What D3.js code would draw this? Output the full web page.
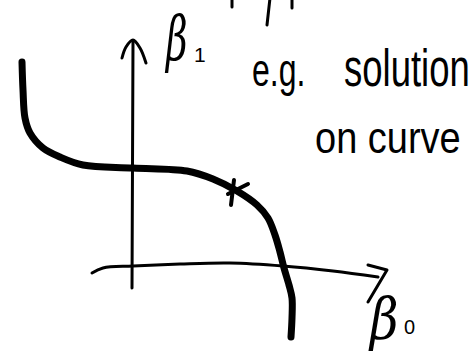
<!DOCTYPE html>
<html>
<head>
<meta charset="utf-8">
<script src="https://cdn.jsdelivr.net/npm/d3@7"></script>
<style>
  html, body { margin: 0; padding: 0; background: #fff; }
  svg { display: block; }
  text { fill: #000; }
</style>
</head>
<body>
<script>
// Constraint curve in the (beta0, beta1) plane, sketched by hand.
const curveB0 = [-2.20, -2.18, -2.14, -2.04, -1.78, -1.44, -0.98, 0.02, 1.10, 1.62, 2.10, 2.50, 2.72, 2.86, 2.96, 3.04, 3.14, 3.20, 3.20, 3.18];
const curveB1 = [ 4.08,  3.52,  2.96,  2.66,  2.36,  2.18,  2.02, 1.96, 1.90, 1.74, 1.50, 1.22, 0.96, 0.62, 0.28, -0.04, -0.38, -0.64, -1.04, -1.42];

// Example solution lying on the curve.
const solutionB0 = [2.08];
const solutionB1 = [1.48];

// Hand-drawn axes (slightly wobbly).
const hAxisB0 = [-0.80, -0.58, 0.02, 0.96, 1.96, 3.02, 4.02, 4.92];
const hAxisB1 = [-0.14, -0.04, 0.00, 0.04, 0.06, 0.00, -0.10, -0.22];
const hArrowB0 = [4.72, 5.10, 4.72];
const hArrowB1 = [0.02, -0.08, -0.72];
const vAxisB0 = [0.00, 0.02];
const vAxisB1 = [-0.44, 4.48];
const vArrowB0 = [-0.20, -0.12, 0.02, 0.16, 0.28];
const vArrowB1 = [4.16, 4.38, 4.52, 4.36, 4.06];

// Labels
const axisLabels = ["β", "β"];
const axisSubs = ["1", "0"];
const noteLines = ["e.g.", "solution", "on curve"];

const W = 476, H = 353;
const svg = d3.select("body").append("svg").attr("width", W).attr("height", H);

const x = d3.scaleLinear().domain([-2.64, 6.88]).range([0, W]);
const y = d3.scaleLinear().domain([5.32, -1.74]).range([0, H]);

const zip = (a, b) => a.map((v, i) => [v, b[i]]);
const smooth = d3.line().x(d => x(d[0])).y(d => y(d[1])).curve(d3.curveCatmullRom.alpha(0.5));
const straight = d3.line().x(d => x(d[0])).y(d => y(d[1]));

const ink = g => g.attr("fill", "none").attr("stroke", "#000")
  .attr("stroke-linecap", "round").attr("stroke-linejoin", "round");

// axes
svg.append("path").datum(zip(hAxisB0, hAxisB1)).attr("d", smooth).call(ink).attr("stroke-width", 3);
svg.append("path").datum(zip(hArrowB0, hArrowB1)).attr("d", straight).call(ink).attr("stroke-width", 3);
svg.append("path").datum(zip(vAxisB0, vAxisB1)).attr("d", straight).call(ink).attr("stroke-width", 3);
svg.append("path").datum(zip(vArrowB0, vArrowB1)).attr("d", smooth).call(ink).attr("stroke-width", 3);

// the curve
svg.append("path").datum(zip(curveB0, curveB1)).attr("d", smooth).call(ink).attr("stroke-width", 7);

// star marking the solution
const star = svg.selectAll("g.star").data(zip(solutionB0, solutionB1)).join("g")
  .attr("class", "star")
  .attr("transform", d => `translate(${x(d[0])},${y(d[1])})`);
star.append("path").attr("d", "M-2,-12 L-5,13").call(ink).attr("stroke-width", 4);
star.append("path").attr("d", "M12,-8 L-8,2").call(ink).attr("stroke-width", 4);

// strokes of text cut off above the frame
svg.append("path").attr("d", "M232,-2 L232,7 M270,-2 L267,25 M292,-2 L292,8").call(ink).attr("stroke-width", 3);

// beta1 label
svg.append("text").text(axisLabels[0])
  .attr("transform", "translate(166,60) scale(0.6,1)")
  .attr("font-family", "DejaVu Serif").attr("font-style", "italic").attr("font-size", 62);
svg.append("text").text(axisSubs[0])
  .attr("x", 194).attr("y", 62)
  .attr("font-family", "Liberation Sans").attr("font-size", 21);

// beta0 label
svg.append("text").text(axisLabels[1])
  .attr("transform", "translate(370,339) scale(0.85,1)")
  .attr("font-family", "DejaVu Serif").attr("font-style", "italic").attr("font-size", 58);
svg.append("text").text(axisSubs[1])
  .attr("x", 404).attr("y", 334)
  .attr("font-family", "Liberation Sans").attr("font-size", 20);

// annotation, stretched upright like handwriting
svg.append("text").text(noteLines[0])
  .attr("transform", "translate(252,86) scale(1,1.45)")
  .attr("font-family", "Liberation Sans").attr("font-size", 32);
svg.append("text").text(noteLines[1])
  .attr("transform", "translate(344,86) scale(1,1.4)")
  .attr("font-family", "Liberation Sans").attr("font-size", 36.5);
svg.append("text").text(noteLines[2])
  .attr("transform", "translate(315,153) scale(1,1.15)")
  .attr("font-family", "Liberation Sans").attr("font-size", 38);
</script>
</body>
</html>
